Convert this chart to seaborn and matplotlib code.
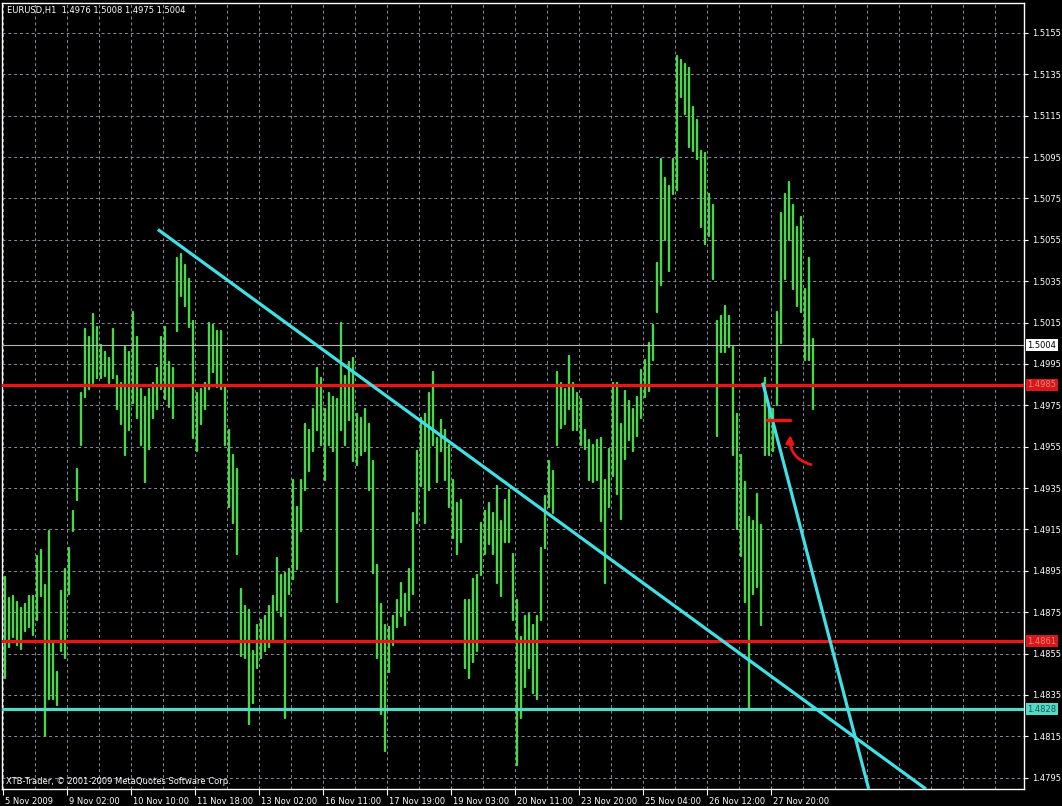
import matplotlib
matplotlib.use("Agg")
import matplotlib.pyplot as plt
import matplotlib.transforms as mtransforms
from matplotlib.patches import FancyArrowPatch
import seaborn as sns
import numpy as np
import pandas as pd

# ---------------- data (EURUSD H1, read as 2-hour high/low slots) ----------------
highs = [
    1.4892, 1.4882, 1.4883, 1.4880, 1.4877, 1.4879, 1.4883, 1.4883, 1.4902, 1.4905,
    1.4888, 1.4914, 1.4861, 1.4846, 1.4885, 1.4896, 1.4906, 1.4924, 1.4944, 1.4981,
    1.5012, 1.5008, 1.5019, 1.5013, 1.5004, 1.5001, 1.4998, 1.5012, 1.4989, 1.4986,
    1.5003, 1.5001, 1.5020, 1.5008, 1.4983, 1.4979, 1.4983, 1.4986, 1.4993, 1.5008,
    1.5013, 1.4996, 1.4993, 1.5046, 1.5048, 1.5043, 1.5036, 1.5016, 1.4981, 1.4983,
    1.4986, 1.5015, 1.5014, 1.5011, 1.5011, 1.4984, 1.4963, 1.4951, 1.4944, 1.4886,
    1.4878, 1.4876, 1.4856, 1.4869, 1.4871, 1.4873, 1.4878, 1.4883, 1.4901, 1.4893,
    1.4894, 1.4896, 1.4939, 1.4926, 1.4939, 1.4966, 1.4963, 1.4973, 1.4993, 1.4988,
    1.4973, 1.4981, 1.4979, 1.4978, 1.5015, 1.4989, 1.4996, 1.4998, 1.4971, 1.4969,
    1.4973, 1.4966, 1.4948, 1.4898, 1.4879, 1.4869, 1.4868, 1.4873, 1.4881, 1.4889,
    1.4884, 1.4896, 1.4923, 1.4953, 1.4969, 1.4971, 1.4981, 1.4991, 1.4959, 1.4968,
    1.4963, 1.4956, 1.4939, 1.4928, 1.4929, 1.4881, 1.4881, 1.4891, 1.4893, 1.4918,
    1.4924, 1.4928, 1.4923, 1.4936, 1.4919, 1.4929, 1.4934, 1.4903, 1.4881, 1.4863,
    1.4873, 1.4874, 1.4869, 1.4873, 1.4906, 1.4931, 1.4948, 1.4943, 1.4991, 1.4986,
    1.4983, 1.4999, 1.4986, 1.4981, 1.4978, 1.4963, 1.4958, 1.4956, 1.4958, 1.4959,
    1.4939, 1.4954, 1.4986, 1.4986, 1.4966, 1.4982, 1.4977, 1.4973, 1.4979, 1.4992,
    1.4997, 1.5005, 1.5014, 1.5044, 1.5094, 1.5085, 1.5081, 1.5094, 1.5144, 1.5142,
    1.5140, 1.5138, 1.5119, 1.5113, 1.5098, 1.5097, 1.5077, 1.5072, 1.5016, 1.5018,
    1.5023, 1.5018, 1.5003, 1.4971, 1.4951, 1.4938, 1.4921, 1.4919, 1.4932, 1.4917,
    1.4988, 1.4973, 1.4973, 1.5020, 1.5068, 1.5077, 1.5083, 1.5072, 1.5061, 1.5066,
    1.5031, 1.5046, 1.5007,
]
lows = [
    1.4843, 1.4858, 1.4863, 1.4859, 1.4857, 1.4866, 1.4868, 1.4864, 1.4871, 1.4883,
    1.4815, 1.4833, 1.4833, 1.4830, 1.4856, 1.4853, 1.4884, 1.4914, 1.4929, 1.4956,
    1.4979, 1.4983, 1.4986, 1.4988, 1.4988, 1.4989, 1.4986, 1.4988, 1.4973, 1.4966,
    1.4951, 1.4963, 1.4976, 1.4969, 1.4956, 1.4938, 1.4954, 1.4969, 1.4973, 1.4983,
    1.4978, 1.4974, 1.4969, 1.5011, 1.5028, 1.5023, 1.5013, 1.4959, 1.4953, 1.4966,
    1.4973, 1.4983, 1.4991, 1.4984, 1.4983, 1.4956, 1.4926, 1.4918, 1.4903, 1.4854,
    1.4853, 1.4821, 1.4831, 1.4848, 1.4853, 1.4856, 1.4858, 1.4861, 1.4876, 1.4873,
    1.4824, 1.4884, 1.4891, 1.4896, 1.4914, 1.4934, 1.4943, 1.4953, 1.4963, 1.4956,
    1.4939, 1.4956, 1.4953, 1.4880, 1.4963, 1.4956, 1.4968, 1.4948, 1.4946, 1.4951,
    1.4953, 1.4934, 1.4894, 1.4853, 1.4826, 1.4808, 1.4846, 1.4859, 1.4868, 1.4873,
    1.4869, 1.4876, 1.4884, 1.4918, 1.4936, 1.4918, 1.4934, 1.4956, 1.4938, 1.4953,
    1.4939, 1.4926, 1.4911, 1.4903, 1.4909, 1.4848, 1.4843, 1.4851, 1.4856, 1.4893,
    1.4903, 1.4908, 1.4903, 1.4889, 1.4883, 1.4909, 1.4909, 1.4871, 1.4801, 1.4824,
    1.4839, 1.4848, 1.4836, 1.4833, 1.4871, 1.4906, 1.4926, 1.4923, 1.4956, 1.4964,
    1.4966, 1.4973, 1.4963, 1.4963, 1.4956, 1.4954, 1.4939, 1.4938, 1.4939, 1.4919,
    1.4889, 1.4926, 1.4941, 1.4932, 1.4920, 1.4949, 1.4958, 1.4953, 1.4960, 1.4969,
    1.4979, 1.4982, 1.4997, 1.5020, 1.5033, 1.5055, 1.5040, 1.5077, 1.5079, 1.5124,
    1.5116, 1.5100, 1.5098, 1.5094, 1.5061, 1.5053, 1.5057, 1.5036, 1.4960, 1.5001,
    1.5001, 1.5003, 1.4951, 1.4915, 1.4902, 1.4880, 1.4828, 1.4884, 1.4887, 1.4869,
    1.4951, 1.4951, 1.4953, 1.4975, 1.5005, 1.5036, 1.5055, 1.5031, 1.5023, 1.5020,
    1.4997, 1.4997, 1.4973,
]
time_labels = ["5 Nov 2009", "9 Nov 02:00", "10 Nov 10:00", "11 Nov 18:00",
               "13 Nov 02:00", "16 Nov 11:00", "17 Nov 19:00", "19 Nov 03:00",
               "20 Nov 11:00", "23 Nov 20:00", "25 Nov 04:00", "26 Nov 12:00",
               "27 Nov 20:00"]
price_levels = [1.4795, 1.4815, 1.4835, 1.4855, 1.4875, 1.4895, 1.4915, 1.4935,
                1.4955, 1.4975, 1.4995, 1.5015, 1.5035, 1.5055, 1.5075, 1.5095,
                1.5115, 1.5135, 1.5155]
red_levels = [1.4985, 1.4861]
cyan_level = 1.4828
bid_price = 1.5004
title_text = "EURUSD,H1  1.4976 1.5008 1.4975 1.5004"
footer_text = "XTB-Trader, \u00a9 2001-2009 MetaQuotes Software Corp."
trend1_h = [77.6, 461.6]
trend1_p = [1.5060, 1.47895]
trend2_h = [380.0, 433.0]
trend2_p = [1.4986, 1.47895]
mark_h = [382.0, 393.5]
mark_p = [1.4968, 1.4968]
arrow_tail = (405.5, 1.4946)
arrow_head = (394.0, 1.4962)

# ---------------- styling ----------------
sns.set_theme(style="dark")
plt.rcParams["font.family"] = ["DejaVu Sans"]

GREEN = "#4cd44c"
RED = "#ee1414"
CYAN = "#3fe0e6"
CYAN_H = "#55d8c4"
GRID = "#8c8c9c"

fig = plt.figure(figsize=(10.62, 8.06), dpi=100, facecolor="black")
ax = fig.add_axes([2 / 1062, 17 / 806, 1022 / 1062, 786 / 806])
ax.set_facecolor("black")

n = len(highs)
idx = np.arange(n)
df = pd.DataFrame({
    "bar": np.repeat(idx, 2),
    "hour": np.repeat(2 * idx + 1, 2),
    "price": np.column_stack([highs, lows]).ravel(),
})

# grid
for h in range(0, 512, 16):
    ax.axvline(h, color=GRID, lw=0.7, ls=(0, (3, 3)), zorder=0)
for p in price_levels:
    ax.axhline(p, color=GRID, lw=0.7, ls=(0, (3, 3)), zorder=0)

sns.lineplot(data=df, x="hour", y="price", units="bar", estimator=None,
             sort=False, color=GREEN, linewidth=1.7, legend=False, ax=ax,
             zorder=2)

# levels
ax.axhline(bid_price, color="#b4b4b4", lw=0.8, zorder=3)
for p in red_levels:
    ax.axhline(p, color=RED, lw=2.3, zorder=4)
ax.axhline(cyan_level, color=CYAN_H, lw=2.3, zorder=4)

# trend lines
ax.plot(trend1_h, trend1_p, color=CYAN, lw=2.3, zorder=5, solid_capstyle="butt")
ax.plot(trend2_h, trend2_p, color=CYAN, lw=2.3, zorder=5, solid_capstyle="butt")

# red annotation
ax.plot(mark_h, mark_p, color=RED, lw=2.4, zorder=6, solid_capstyle="round")
arr = FancyArrowPatch(arrow_tail, arrow_head, connectionstyle="arc3,rad=-0.45",
                      arrowstyle="-|>", mutation_scale=11, color=RED, lw=2.0,
                      zorder=6)
ax.add_patch(arr)

ax.set_xlim(-0.35, 510.65)
ax.set_ylim(1.47895, 1.51695)

# axes frame
for s in ax.spines.values():
    s.set_color("white")
    s.set_linewidth(1.0)
    s.set_visible(True)

# y axis at right
ax.yaxis.tick_right()
ax.set_yticks(price_levels)
ax.set_yticklabels([f"{p:.4f}" for p in price_levels])
ax.tick_params(axis="y", colors="white", labelcolor="white", labelsize=6,
               length=3, width=0.8, pad=3, right=True, left=False)

# x axis
xt = [32 * k for k in range(len(time_labels))]
ax.set_xticks(xt)
ax.set_xticklabels(time_labels, ha="left")
ax.tick_params(axis="x", colors="white", labelcolor="white", labelsize=6,
               length=4, width=0.8, pad=2, bottom=True)
offset = mtransforms.ScaledTranslation(2.5 / 100, 0, fig.dpi_scale_trans)
for lab in ax.get_xticklabels():
    lab.set_transform(lab.get_transform() + offset)
ax.set_xlabel("")
ax.set_ylabel("")
ax.grid(False)

# price boxes on axis
btrans = mtransforms.blended_transform_factory(ax.transAxes, ax.transData)
def price_box(p, fc, tc):
    ax.text(1.0035, p, f"{p:.4f}", transform=btrans, ha="left", va="center",
            fontsize=6, color=tc, clip_on=False, zorder=10,
            bbox=dict(boxstyle="square,pad=0.18", fc=fc, ec="none"))

price_box(bid_price, "white", "black")
for p in red_levels:
    price_box(p, "#d81818", "#f08080")
price_box(cyan_level, CYAN_H, "#1c5a52")

# texts
fig.text(7 / 1062, 1 - 10 / 806, title_text, color="white", fontsize=6,
         ha="left", va="center")
fig.text(6 / 1062, 1 - 781 / 806, footer_text, color="white", fontsize=6,
         ha="left", va="center")

fig.savefig("out.png", dpi=100, facecolor="black")
